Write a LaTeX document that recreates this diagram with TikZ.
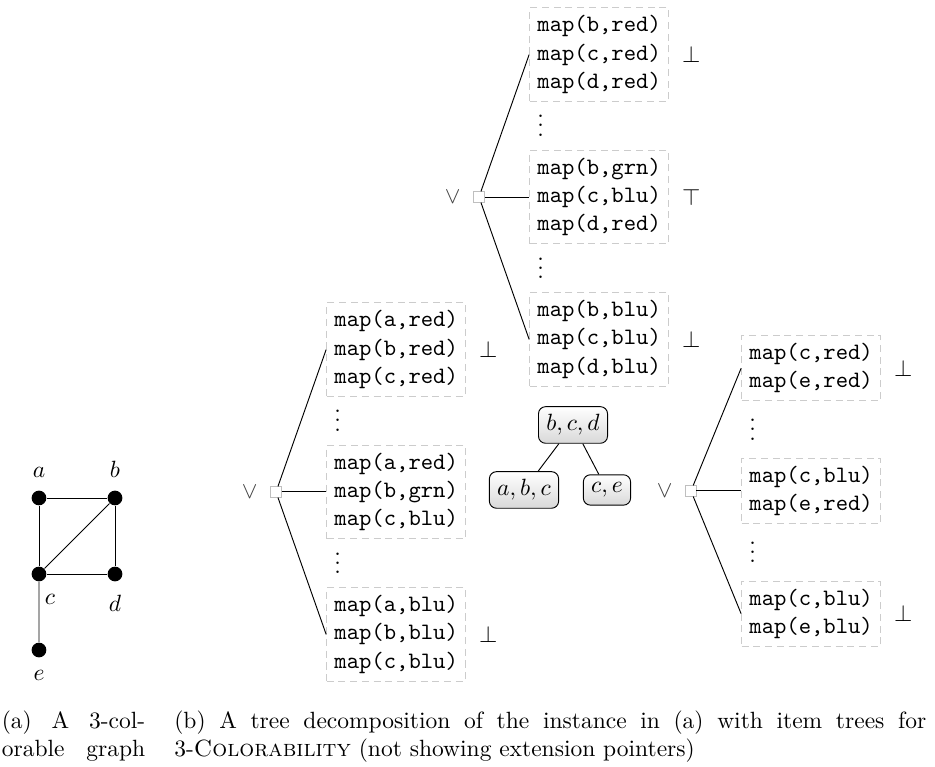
\documentclass[tikz,border=0pt]{standalone}
\usetikzlibrary{positioning,calc}
\tikzset{
  vtx/.style={circle,fill,inner sep=0pt,minimum size=2.2mm,on grid},
  bag/.style={draw,rounded corners=3pt,top color=white,bottom color=gray!30},
  item/.style={draw=gray!40,dash pattern=on 3pt off 2pt,align=left,font=\ttfamily},
  ornode/.style={draw=gray!50,fill=white,inner sep=0pt,minimum size=4.3pt,
    label={[text=black!75]left:$\vee$}},
  gap/.style={anchor=west,inner sep=0pt,xshift=3.33pt,yshift=3pt},
  captext/.style={anchor=north west,inner sep=0pt,align=justify}
}

\begin{document}
\begin{tikzpicture}[node distance=1.137cm, label distance=2pt]
\useasboundingbox (0,0) rectangle (13.984,-11.471);

% the graph
\node[vtx, label=above:$a$] (a) at (0.583,-7.448) {};
\node[vtx, label=above:$b$, right=of a] (b) {};
\node[vtx, label={[xshift=4.7pt]below:$c$}, below=of a] (c) {};
\node[vtx, label=below:$d$, right=of c] (d) {};
\node[vtx, label=below:$e$, below=of c] (e) {};
\draw (a) -- (b) -- (d) -- (c) -- (a);
\draw (b) -- (c) -- (e);

% tree decomposition
\node[bag] (bcd) at (8.570,-6.356) {$b,c,d$};
\node[bag] (abc) at (7.837,-7.328) {$a,b,c$};
\node[bag] (ce) at (9.078,-7.328) {$c,e$};
\draw (bcd) -- (abc);
\draw (bcd) -- (ce);

% item tree at a,b,c
\node[ornode] (l) at (4.128,-7.358) {};
\node[item, right=19pt of l] (l2) {map(a,red)\\map(b,grn)\\map(c,blu)};
\node[item, label=right:$\bot$, above=20.4pt of l2] (l1) {map(a,red)\\map(b,red)\\map(c,red)};
\node[item, label=right:$\bot$, below=20.4pt of l2] (l3) {map(a,blu)\\map(b,blu)\\map(c,blu)};
\node[gap] at ($(l1.south west)!.5!(l2.north west)$) {$\vdots$};
\node[gap] at ($(l2.south west)!.5!(l3.north west)$) {$\vdots$};
\draw (l) -- (l1.west);
\draw (l) -- (l2);
\draw (l) -- (l3.west);

% item tree at b,c,d
\node[ornode] (m) at (7.164,-2.946) {};
\node[item, label=right:$\top$, right=19pt of m] (m2) {map(b,grn)\\map(c,blu)\\map(d,red)};
\node[item, label=right:$\bot$, above=20.4pt of m2] (m1) {map(b,red)\\map(c,red)\\map(d,red)};
\node[item, label=right:$\bot$, below=20.4pt of m2] (m3) {map(b,blu)\\map(c,blu)\\map(d,blu)};
\node[gap] at ($(m1.south west)!.5!(m2.north west)$) {$\vdots$};
\node[gap] at ($(m2.south west)!.5!(m3.north west)$) {$\vdots$};
\draw (m) -- (m1.west);
\draw (m) -- (m2);
\draw (m) -- (m3.west);

% item tree at c,e
\node[ornode] (r) at (10.334,-7.343) {};
\node[item, right=19pt of r] (r2) {map(c,blu)\\map(e,red)};
\node[item, label=right:$\bot$, above=24pt of r2] (r1) {map(c,red)\\map(e,red)};
\node[item, label=right:$\bot$, below=24pt of r2] (r3) {map(c,blu)\\map(e,blu)};
\node[gap] at ($(r1.south west)!.5!(r2.north west)$) {$\vdots$};
\node[gap] at ($(r2.south west)!.5!(r3.north west)$) {$\vdots$};
\draw (r) -- (r1.west);
\draw (r) -- (r2);
\draw (r) -- (r3.west);

% captions
\node[captext, text width=61pt] (capa) at (0.02,-10.625) {(a) A 3-col-\linebreak orable\hfill graph};
\node[captext, text width=320pt] (capb) at (2.60,-10.625) {(b) A tree decomposition of the instance in (a) with item trees for\linebreak 3-\textsc{Colorability} (not showing extension pointers)};

\end{tikzpicture}
\end{document}
